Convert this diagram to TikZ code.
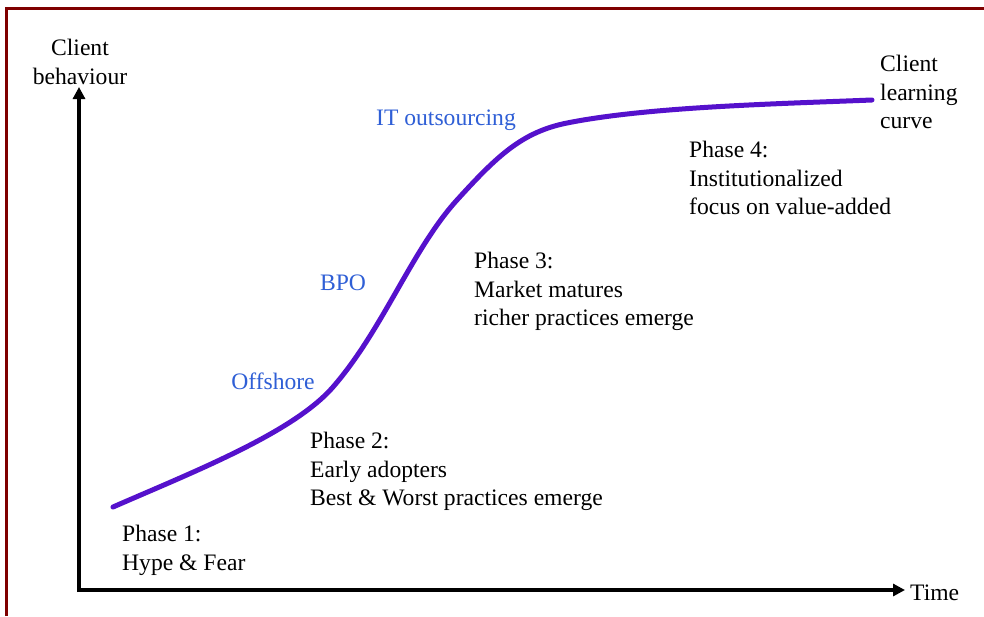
\documentclass[tikz,border=0pt]{standalone}
\usepackage{fontspec}
\setmainfont{Liberation Serif}
\usepackage{xcolor}
\usepackage{tikz}
\usetikzlibrary{arrows.meta, positioning}
\definecolor{cframe}{HTML}{7F0000}
\definecolor{ccurve}{HTML}{5511CC}
\definecolor{cblue}{HTML}{2F5FD6}
\tikzset{
  txt/.style={font=\fontsize{23.6}{28.5}\selectfont, inner sep=0pt, align=left},
  phasetxt/.style={txt, anchor=north west},
  segtxt/.style={txt, text=cblue},
  axisline/.style={line width=4pt, -{Triangle[length=12pt, width=12pt]}},
  lcurve/.style={ccurve, line width=5pt, line cap=round},
}
\begin{document}
\begin{tikzpicture}[x=1pt, y=-1pt]

  \useasboundingbox (0,0) rectangle (984,616);
  \fill[white] (0,0) rectangle (984,616);

  % frame
  \draw[cframe, line width=3pt] (6,616) -- (6,8) -- (984,8);

  % axes
  \coordinate (origin) at (79,590);
  \coordinate (ytop) at (79,87);
  \coordinate (xend) at (905,590);
  \draw[axisline] ([yshift=-2pt]origin) -- (ytop);
  \draw[axisline] ([xshift=-2pt]origin) -- (xend);

  \node[txt, align=center, anchor=north] (ylbl) at (80,39) {Client\\behaviour};
  \node[txt, anchor=west] (xlbl) at (910,593) {Time};

  % learning curve (S-shape)
  \coordinate (cstart) at (113,507);
  \coordinate (c1) at (333,387);
  \coordinate (c2) at (457,200);
  \coordinate (c3) at (567,123);
  \coordinate (cend) at (872,100);
  \draw[lcurve] (cstart) .. controls (193,472) and (293,433) .. (c1)
    .. controls (383,329.5) and (412,249.5) .. (c2)
    .. controls (497,156) and (522,132) .. (c3)
    .. controls (647,107) and (772,104) .. (cend);

  \node[phasetxt] (curvelbl) at (880,55) {Client\\learning\\curve};

  % outsourcing types along the curve
  \node[segtxt] (offshore) at (273,381) {Offshore};
  \node[segtxt] (bpo) at (343,283) {BPO};
  \node[segtxt] (itout) at (446,120) {IT outsourcing};

  % phases
  \node[phasetxt] (ph1) at (122,525) {Phase 1:\\Hype \& Fear};
  \node[phasetxt] (ph2) at (310,432) {Phase 2:\\Early adopters\\Best \& Worst practices emerge};
  \node[phasetxt] (ph3) at (474,252) {Phase 3:\\Market matures\\richer practices emerge};
  \node[phasetxt] (ph4) at (689,141) {Phase 4:\\Institutionalized\\focus on value-added};

\end{tikzpicture}
\end{document}
